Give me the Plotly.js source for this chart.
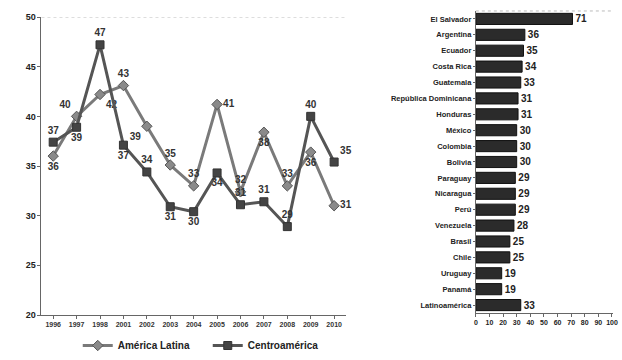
<!DOCTYPE html>
<html><head><meta charset="utf-8">
<script src="https://cdn.plot.ly/plotly-3.0.1.min.js"></script>
<style>html,body{margin:0;padding:0;background:#fff;}#chart{width:622px;height:360px;}</style>
</head><body><div id="chart"></div>
<script>
var years = ['1996','1997','1998','2001','2002','2003','2004','2005','2006','2007','2008','2009','2010'];
var americaLatina = [36, 40, 42.2, 43.1, 39, 35.1, 33, 41.2, 32.4, 38.4, 33, 36.4, 31];
var centroamerica = [37.4, 38.9, 47.2, 37.1, 34.4, 30.9, 30.4, 34.3, 31.1, 31.4, 28.9, 40, 35.4];
var alTextPos = ['bottom center','top left','bottom right','top center','bottom left','top center','top center','middle right','top center','bottom center','top center','bottom center','middle right'];
var caTextPos = ['top center','bottom center','top center','bottom center','top center','bottom center','bottom center','bottom center','top center','top center','top center','top center','top right'];

var countries = ['El Salvador','Argentina','Ecuador','Costa Rica','Guatemala','República Dominicana','Honduras','México','Colombia','Bolivia','Paraguay','Nicaragua','Perú','Venezuela','Brasil','Chile','Uruguay','Panamá','Latinoamérica'];
var countryValues = [71, 36, 35, 34, 33, 31, 31, 30, 30, 30, 29, 29, 29, 28, 25, 25, 19, 19, 33];

var F = 'Liberation Sans Narrow, Arial Narrow, sans-serif';
var traces = [
  {x: years, y: americaLatina, name: 'América Latina', type: 'scatter', mode: 'lines+markers+text',
   line: {color: '#7a7a7a', width: 3}, marker: {symbol: 'diamond', size: 8, color: '#8a8a8a', line: {color: '#555', width: 1}},
   text: americaLatina.map(function(v){return Math.round(v);}), textposition: alTextPos,
   textfont: {family: F, size: 10, color: '#333', weight: 'bold'}, xaxis: 'x', yaxis: 'y', cliponaxis: false},
  {x: years, y: centroamerica, name: 'Centroamérica', type: 'scatter', mode: 'lines+markers+text',
   line: {color: '#555', width: 3}, marker: {symbol: 'square', size: 8, color: '#444', line: {color: '#333', width: 1}},
   text: centroamerica.map(function(v){return Math.round(v);}), textposition: caTextPos,
   textfont: {family: F, size: 10, color: '#333', weight: 'bold'}, xaxis: 'x', yaxis: 'y', cliponaxis: false},
  {x: countryValues, y: countries, type: 'bar', orientation: 'h', showlegend: false,
   marker: {color: '#2b2b2b', line: {color: '#111', width: 1}},
   text: countryValues, textposition: 'outside', cliponaxis: false,
   textfont: {family: F, size: 10, color: '#222', weight: 'bold'}, xaxis: 'x2', yaxis: 'y2'}
];
var layout = {
  width: 622, height: 360, margin: {l: 0, r: 0, t: 10, b: 42},
  paper_bgcolor: '#fff', plot_bgcolor: 'rgba(0,0,0,0)',
  font: {family: F, color: '#222', size: 9},
  showlegend: true,
  legend: {orientation: 'h', x: 0.125, y: -0.1, xanchor: 'left', yanchor: 'middle',
           font: {family: F, size: 10, color: '#222', weight: 'bold'}, itemwidth: 30,
           entrywidth: 85, entrywidthmode: 'pixels', tracegroupgap: 0},
  xaxis: {domain: [0.0667, 0.556], type: 'category', range: [-0.5, 12.5], showgrid: false,
          showline: true, linecolor: '#666', linewidth: 1, ticks: 'outside', ticklen: 3, tickcolor: '#666',
          tickfont: {family: F, size: 7, color: '#333', weight: 'bold'}, zeroline: false},
  yaxis: {domain: [0, 0.977], range: [20, 50], dtick: 5, showgrid: false, showline: true,
          linecolor: '#666', linewidth: 1, ticks: 'outside', ticklen: 3, tickcolor: '#666',
          tickfont: {family: F, size: 9, color: '#222', weight: 'bold'}, zeroline: false},
  xaxis2: {domain: [0.765, 0.985], range: [0, 100.5], tickvals: [0,10,20,30,40,50,60,70,80,90,100], anchor: 'y2', showgrid: false,
           showline: true, linecolor: '#666', linewidth: 1, ticks: 'outside', ticklen: 3, tickcolor: '#666',
           ticklabeloverflow: 'allow', tickangle: 0,
           tickfont: {family: F, size: 7, color: '#222', weight: 'bold'}, zeroline: false},
  yaxis2: {domain: [0.0065, 0.9968], anchor: 'x2', type: 'category', autorange: 'reversed',
           showline: true, linecolor: '#666', linewidth: 1, ticks: 'outside', ticklen: 2, tickcolor: '#666',
           tickfont: {family: F, size: 7.5, color: '#222', weight: 'bold'}, showgrid: false},
  bargap: 0.3,
  shapes: [
    {type: 'line', xref: 'x domain', yref: 'y', x0: 0, x1: 1, y0: 50, y1: 50, line: {color: '#bbb', width: 1, dash: 'dot'}},
    {type: 'line', xref: 'x2 domain', yref: 'y2 domain', x0: 0, x1: 1, y0: 1, y1: 1, line: {color: '#bbb', width: 1, dash: 'dot'}}
  ]
};
Plotly.newPlot('chart', traces, layout, {displayModeBar: false, staticPlot: true});
</script></body></html>
